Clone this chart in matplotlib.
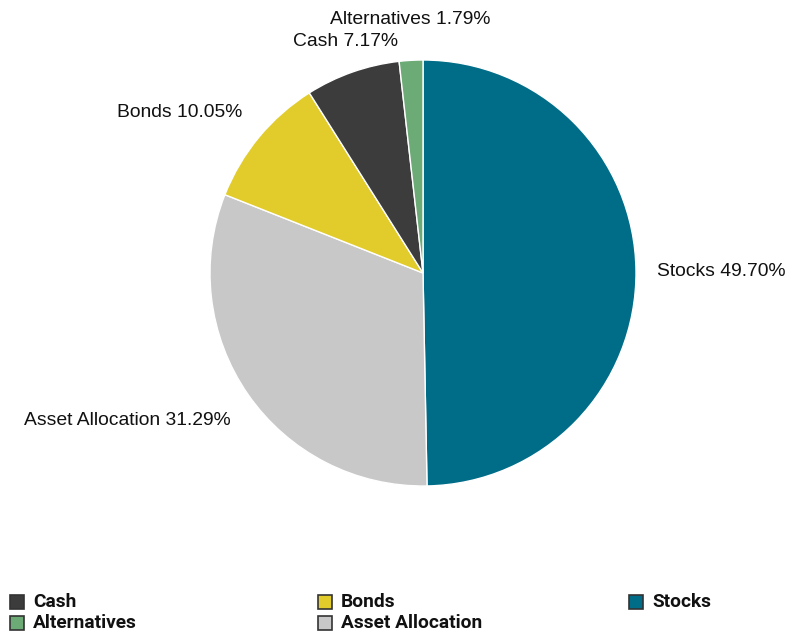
import numpy as np
import matplotlib
matplotlib.use("Agg")
from matplotlib import pyplot as plt
from matplotlib.patches import Rectangle

# allocation by asset class, drawn clockwise from 12 o'clock
names = ["Stocks", "Asset Allocation", "Bonds", "Cash", "Alternatives"]
shares = [49.70, 31.29, 10.05, 7.17, 1.79]
colors = ["#006d88", "#c8c8c8", "#e2cc2c", "#3c3c3c", "#6caa76"]

# legend order (column-major, 3 columns)
legend_order = ["Cash", "Alternatives", "Bonds", "Asset Allocation", "Stocks"]

# per-label alignment and vertical nudge (pixels)
label_ha = ["left", "right", "right", "center", "center"]
label_dy = [-1, -14, 11, 10, 20]

fig = plt.figure(figsize=(7.88, 6.36), dpi=100)
W, H = 788, 636
cx, cy, r = 423, 273, 213
ax = fig.add_axes([(cx - r) / W, (H - cy - r) / H, 2 * r / W, 2 * r / H])

wedges, _ = ax.pie(shares, colors=colors, startangle=90, counterclock=False,
                   wedgeprops=dict(edgecolor="white", linewidth=1))
ax.set_xlim(-1, 1)
ax.set_ylim(-1, 1)
ax.axis("off")

for w, name, val, ha, dy in zip(wedges, names, shares, label_ha, label_dy):
    mid = np.deg2rad((w.theta1 + w.theta2) / 2)
    x = 1.1 * np.cos(mid)
    y = 1.1 * np.sin(mid)
    ax.annotate(f"{name} {val:.2f}%", (x, y), xytext=(0, dy * 0.72),
                textcoords="offset points", ha=ha, va="center",
                fontsize=13.9, family=["Liberation Sans", "DejaVu Sans"],
                color="#111111", annotation_clip=False)

# legend laid out in equal-width columns
col_x = [10, 318, 629]
row_y = [602, 623]
for i, name in enumerate(legend_order):
    c = colors[names.index(name)]
    lx = col_x[i // 2]
    ly = row_y[i % 2]
    fig.add_artist(Rectangle((lx / W, (H - ly - 7) / H), 14 / W, 14 / H,
                             transform=fig.transFigure, facecolor=c,
                             edgecolor="#333333", linewidth=1.2))
    fig.text((lx + 23) / W, (H - ly) / H, name, ha="left", va="center",
             fontsize=13.8, fontweight="bold",
             family=["Roboto", "Liberation Sans", "DejaVu Sans"], color="#111111")

fig.savefig("out.png", dpi=100, facecolor="white")
